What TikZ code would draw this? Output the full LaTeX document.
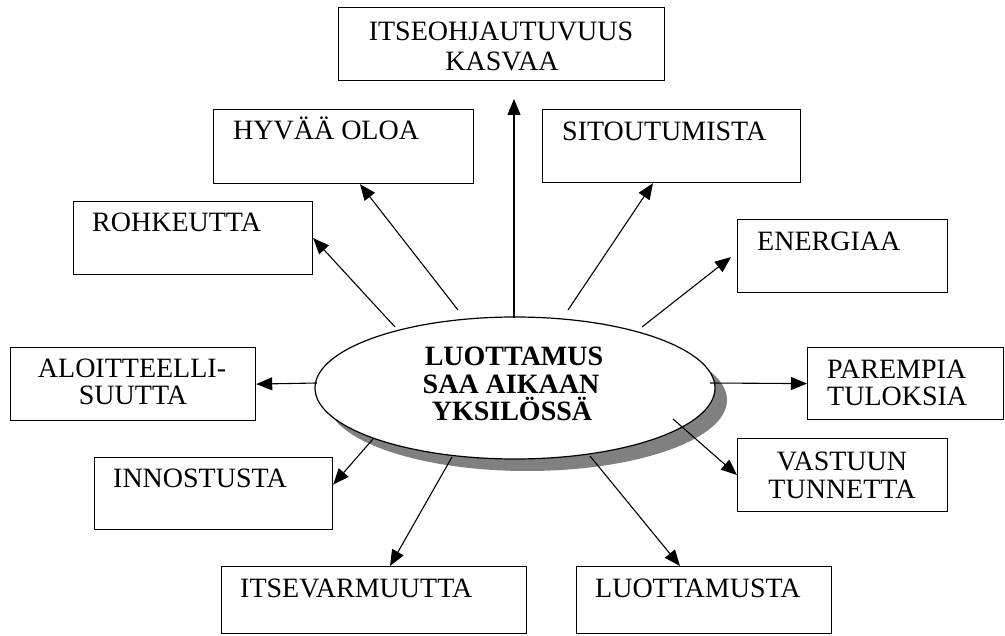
\documentclass[tikz,border=0pt]{standalone}
\usepackage{fontspec}
\setmainfont{Liberation Serif}
\usetikzlibrary{arrows.meta,calc,shapes.geometric}
\definecolor{shadowgray}{HTML}{808080}
\begin{document}
\begin{tikzpicture}[x=1pt,y=-1pt,
  box/.style={draw=black,line width=1.2pt,fill=white,inner sep=0pt,anchor=north west},
  lbl/.style={inner sep=0pt,font=\fontsize{28}{27}\selectfont,anchor=base west},
  clbl/.style={lbl,anchor=base},
  blbl/.style={inner sep=0pt,font=\fontsize{28}{27}\selectfont\bfseries,anchor=base},
  arr/.style={line width=1.1pt,-{Triangle[length=16pt,width=13pt]}}]
\useasboundingbox (0,0) rectangle (1005,636);
\fill[white] (0,0) rectangle (1005,636);

% boxes
\node[box,minimum width=326pt,minimum height=73pt] (itse) at (338,7) {};
\node[box,minimum width=260pt,minimum height=74pt] (hyva) at (213,109) {};
\node[box,minimum width=258pt,minimum height=73pt] (sito) at (542,109) {};
\node[box,minimum width=239pt,minimum height=73pt] (rohk) at (73,201) {};
\node[box,minimum width=210pt,minimum height=73pt] (ener) at (737,219) {};
\node[box,minimum width=245pt,minimum height=73pt] (aloi) at (10,347) {};
\node[box,minimum width=196pt,minimum height=72pt] (pare) at (807,347) {};
\node[box,minimum width=238pt,minimum height=72pt] (inno) at (94,457) {};
\node[box,minimum width=210pt,minimum height=73pt] (vast) at (737,438) {};
\node[box,minimum width=305pt,minimum height=67pt] (itsv) at (221,566) {};
\node[box,minimum width=255pt,minimum height=67pt] (luot) at (576,566) {};

% texts
\node[clbl] (itse1) at (501,41) {ITSEOHJAUTUVUUS};
\node[clbl] (itse2) at (502,71) {KASVAA};
\node[lbl] (hyvat) at (233,140) {HYVÄÄ OLOA};
\node[lbl] (sitot) at (562,141) {SITOUTUMISTA};
\node[lbl] (rohkt) at (92,232) {ROHKEUTTA};
\node[lbl] (enert) at (757,251) {ENERGIAA};
\node[clbl] (aloi1) at (132,378) {ALOITTEELLI-};
\node[clbl] (aloi2) at (133,405) {SUUTTA};
\node[lbl] (pare1) at (827,379) {PAREMPIA};
\node[lbl] (pare2) at (827,406) {TULOKSIA};
\node[lbl] (innot) at (113,487) {INNOSTUSTA};
\node[clbl] (vast1) at (842,471) {VASTUUN};
\node[clbl] (vast2) at (842,498) {TUNNETTA};
\node[lbl] (itsvt) at (240,597) {ITSEVARMUUTTA};
\node[lbl] (luott) at (595,597) {LUOTTAMUSTA};

% central ellipse with shadow
\node[ellipse,fill=shadowgray,minimum width=400pt,minimum height=142pt,inner sep=0pt] (shad) at (527,400) {};
\node[ellipse,draw=black,line width=1.2pt,fill=white,minimum width=400pt,minimum height=142pt,inner sep=0pt] (cen) at (515,388) {};
\node[blbl] (cen1) at (514,366) {LUOTTAMUS};
\node[blbl] (cen2) at (511,394) {SAA AIKAAN};
\node[blbl] (cen3) at (512,421) {YKSILÖSSÄ};

% start points on the ellipse
\coordinate (s1) at (514,318);
\coordinate (s2) at (458,310);
\coordinate (s3) at (568,310);
\coordinate (s4) at (395,327);
\coordinate (s5) at (642,327);
\coordinate (s6) at (317,383);
\coordinate (s7) at (710,383);
\coordinate (s8) at (373,439);
\coordinate (s9) at (673,419);
\coordinate (s10) at (452,457);
\coordinate (s11) at (590,456);
\coordinate (t1) at (514,99);

% connectors
\draw[arr] (s1) -- (t1);
\draw[arr] (s2) -- ([xshift=147pt]hyva.south west);
\draw[arr] (s3) -- ([xshift=111pt]sito.south west);
\draw[arr] (s4) -- (rohk.east);
\draw[arr] (s5) -- ([xshift=-6pt,yshift=-1pt]ener.west);
\draw[arr] (s6) -- (aloi.east);
\draw[arr] (s7) -- (pare.west);
\draw[arr] (s8) -- ([yshift=9pt]inno.east);
\draw[arr] (s9) -- (vast.west);
\draw[arr] (s10) -- ([xshift=169pt]itsv.north west);
\draw[arr] (s11) -- ([xshift=104pt]luot.north west);
\end{tikzpicture}
\end{document}
